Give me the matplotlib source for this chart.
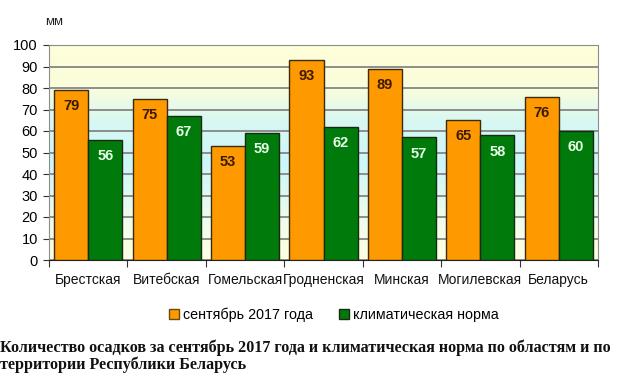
import matplotlib.pyplot as plt
import numpy as np
from matplotlib.colors import LinearSegmentedColormap
from matplotlib.patches import Patch

# data
regions = ["Брестская", "Витебская", "Гомельская", "Гродненская",
           "Минская", "Могилевская", "Беларусь"]
sept_2017 = [79, 75, 53, 93, 89, 65, 76]
climate_norm = [56, 67, 59, 62, 57, 58, 60]
y_ticks = [0, 10, 20, 30, 40, 50, 60, 70, 80, 90, 100]

orange = "#FF9900"
green = "#007A0A"

fig = plt.figure(figsize=(6.21, 3.84), dpi=100)
ax = fig.add_axes([49 / 621, 1 - 260 / 384, 549 / 621, 215 / 384])

# background gradient (yellow -> cyan -> yellow)
cmap = LinearSegmentedColormap.from_list(
    "bg", [(0.0, "#FFFFE0"), (0.2, "#EEFCEC"), (0.45, "#CDF6FA"),
           (0.65, "#D8F8F2"), (0.8, "#FAFDDC"), (1.0, "#FFFFD8")])
grad = np.linspace(0, 1, 256).reshape(-1, 1)
ax.imshow(grad, cmap=cmap, aspect="auto", extent=[-0.5, 6.5, 0, 100],
          origin="lower", zorder=0)

x = np.arange(len(regions))
w = 0.435
ax.bar(x - w / 2, sept_2017, w, color=orange, edgecolor="#3A2A10",
       linewidth=1, zorder=3)
ax.bar(x + w / 2, climate_norm, w, color=green, edgecolor="#1A2A10",
       linewidth=1, zorder=3)

for xi, v in zip(x, sept_2017):
    ax.text(xi - w / 2, v - 4.3, str(v), ha="center", va="top",
            fontsize=10.5, fontweight="bold", color="#3A1A00",
            family="Liberation Sans", zorder=4)
for xi, v in zip(x, climate_norm):
    ax.text(xi + w / 2, v - 4.3, str(v), ha="center", va="top",
            fontsize=10.5, fontweight="bold", color="#E8FFE8",
            family="Liberation Sans", zorder=4)

ax.set_xlim(-0.5, 6.5)
ax.set_ylim(0, 100)
ax.set_yticks(y_ticks)
ax.set_yticklabels([str(t) for t in y_ticks], family="Liberation Sans",
                   fontsize=10.5)
ax.yaxis.grid(True, color="#858585", linewidth=1.3, zorder=1)
ax.set_axisbelow(True)

# category labels between boundary ticks
ax.set_xticks(np.arange(-0.5, 7, 1))
ax.set_xticklabels([])
ax.tick_params(axis="x", length=5, direction="out", color="#333333")
ax.tick_params(axis="y", length=4, direction="out", color="#333333", pad=4)
for xi, name in zip(x, regions):
    ax.text(xi, -6.0, name, ha="center", va="top", fontsize=10,
            family="Liberation Sans", color="#111111")

for s in ["top", "right"]:
    ax.spines[s].set_color("#8C8C8C")
ax.spines["left"].set_color("#8C8C8C")
ax.spines["bottom"].set_color("#222222")

fig.text(45 / 621, 1 - 22 / 384, "мм", fontsize=9.5, family="Liberation Sans",
         ha="left", va="center", color="#222222")

handles = [Patch(facecolor=orange, edgecolor="#6A4A10"),
           Patch(facecolor=green, edgecolor="#1A2A10")]
fig.legend(handles, ["сентябрь 2017 года", "климатическая норма"],
           loc="center", bbox_to_anchor=(0.538, 1 - 315 / 384), ncol=2,
           frameon=False, prop={"family": "Liberation Sans", "size": 10.3},
           handlelength=0.7, handleheight=0.7, handletextpad=0.3,
           columnspacing=1.8)

fig.text(0, 1 - 339 / 384,
         "Количество осадков за сентябрь 2017 года и климатическая норма по областям и по\n"
         "территории Республики Беларусь",
         fontsize=11.6, fontweight="bold", family="Liberation Serif",
         ha="left", va="top", linespacing=1.05, color="#111111")

fig.savefig("out.png", dpi=100)
